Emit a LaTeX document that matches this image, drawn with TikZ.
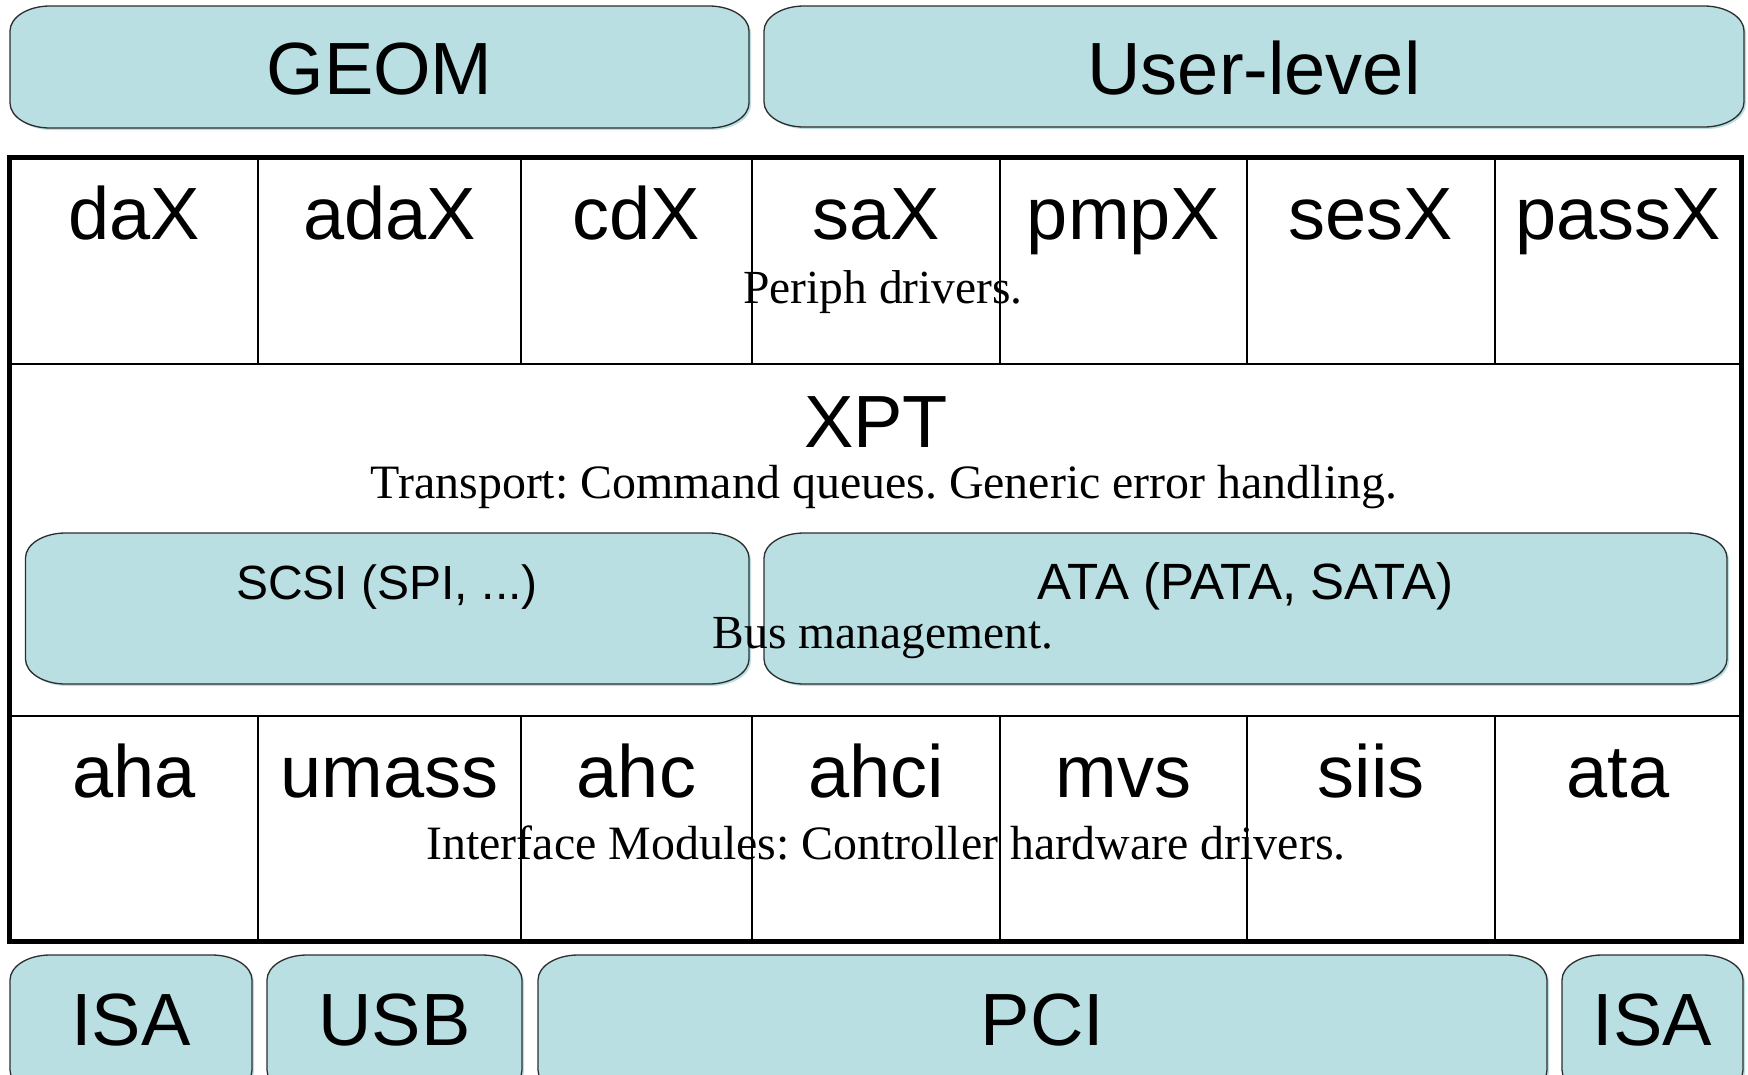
\documentclass[tikz,border=0pt]{standalone}
\usepackage{fontspec}
\setmainfont{Liberation Serif}
\newfontfamily\labfont{Liberation Sans}
\definecolor{boxfill}{RGB}{185,223,227}
\definecolor{boxline}{RGB}{45,45,45}
\frenchspacing
\def\rx{40}
\def\ry{25}
% rounded box with elliptical corners: [style]{x1}{y1}{x2}{y2}
\newcommand\rbox[5][]{%
  \path[#1] ({#2+\rx},#3) -- ({#4-\rx},#3)
    .. controls ({#4-0.448*\rx},#3) and (#4,{#3+0.448*\ry}) .. (#4,{#3+\ry})
    -- (#4,{#5-\ry})
    .. controls (#4,{#5-0.448*\ry}) and ({#4-0.448*\rx},#5) .. ({#4-\rx},#5)
    -- ({#2+\rx},#5)
    .. controls ({#2+0.448*\rx},#5) and (#2,{#5-0.448*\ry}) .. (#2,{#5-\ry})
    -- (#2,{#3+\ry})
    .. controls (#2,{#3+0.448*\ry}) and ({#2+0.448*\rx},#3) .. ({#2+\rx},#3) -- cycle;}
\newcommand\busbox[4]{%
  \begin{scope}[shift={(2,2)}]\rbox[fill=boxfill]{#1}{#2}{#3}{#4}\end{scope}
  \rbox[fill=boxfill,draw=boxline,line width=1.3pt]{#1}{#2}{#3}{#4}}
\tikzset{
  biglab/.style={font=\labfont\fontsize{74}{80}\selectfont, inner sep=0pt, anchor=base},
  midlab/.style={font=\labfont\fontsize{48}{54}\selectfont, inner sep=0pt, anchor=base},
  serlab/.style={font=\fontsize{47.5}{52}\selectfont, inner sep=0pt, anchor=base},
  serwide/.style={serlab, font=\fontsize{47.9}{52}\selectfont},
  thinline/.style={line width=2pt, draw=black},
  thickline/.style={line width=5pt, draw=black}
}
\begin{document}
\begin{tikzpicture}[x=1pt,y=-1pt]
\useasboundingbox (0,0) rectangle (1748,1074);
\clip (0,0) rectangle (1748,1074);
\fill[white] (0,0) rectangle (1748,1074);

% top boxes
\busbox{10}{6}{749}{128}
\busbox{764}{6}{1744}{127}
\node[biglab] (geom) at (379.5,94) {GEOM};
\node[biglab] (user) at (1254,94) {User-level};

% table grid
\foreach \xx in {258,521,752,1000,1247,1495}{
  \draw[thinline] (\xx,157) -- (\xx,364);
  \draw[thinline] (\xx,716) -- (\xx,941);
}
\draw[thinline] (9,364) -- (1741,364);
\draw[thinline] (9,716) -- (1741,716);
\draw[thickline] (9,157) rectangle (1741,941);

% periph row
\node[biglab] (dax) at (134,239) {daX};
\node[biglab] (adax) at (389.5,239) {adaX};
\node[biglab] (cdx) at (636.5,239) {cdX};
\node[biglab] (sax) at (876,239) {saX};
\node[biglab] (pmpx) at (1123.5,239) {pmpX};
\node[biglab] (sesx) at (1371,239) {sesX};
\node[biglab] (passx) at (1618,239) {passX};
\node[serlab] (periph) at (883,303) {Periph drivers.};

% XPT
\node[biglab] (xpt) at (876,447) {XPT};
\node[serwide] (transport) at (884,498) {Transport: Command queues. Generic error handling.};

% bus boxes
\busbox{25.5}{533}{749}{684}
\busbox{764}{533}{1727}{684}
\node[midlab] (scsi) at (387,599) {SCSI (SPI, ...)};
\node[midlab, font=\labfont\fontsize{51}{56}\selectfont] (ata) at (1245.5,599) {ATA (PATA, SATA)};
\node[serlab] (busmgmt) at (883,648) {Bus management.};

% interface row
\node[biglab] (aha) at (134,797) {aha};
\node[biglab] (umass) at (389.5,797) {umass};
\node[biglab] (ahc) at (636.5,797) {ahc};
\node[biglab] (ahci) at (876,797) {ahci};
\node[biglab] (mvs) at (1123.5,797) {mvs};
\node[biglab] (siis) at (1371,797) {siis};
\node[biglab] (atadrv) at (1618,797) {ata};
\node[serwide] (iface) at (886,859) {Interface Modules: Controller hardware drivers.};

% bottom buses
\busbox{10}{955}{252}{1095}
\busbox{267}{955}{522}{1095}
\busbox{538}{955}{1547}{1095}
\busbox{1562}{955}{1743}{1095}
\node[biglab] (isa1) at (131,1045) {ISA};
\node[biglab] (usb) at (394.5,1045) {USB};
\node[biglab] (pci) at (1042.5,1045) {PCI};
\node[biglab] (isa2) at (1652.5,1045) {ISA};
\end{tikzpicture}
\end{document}
